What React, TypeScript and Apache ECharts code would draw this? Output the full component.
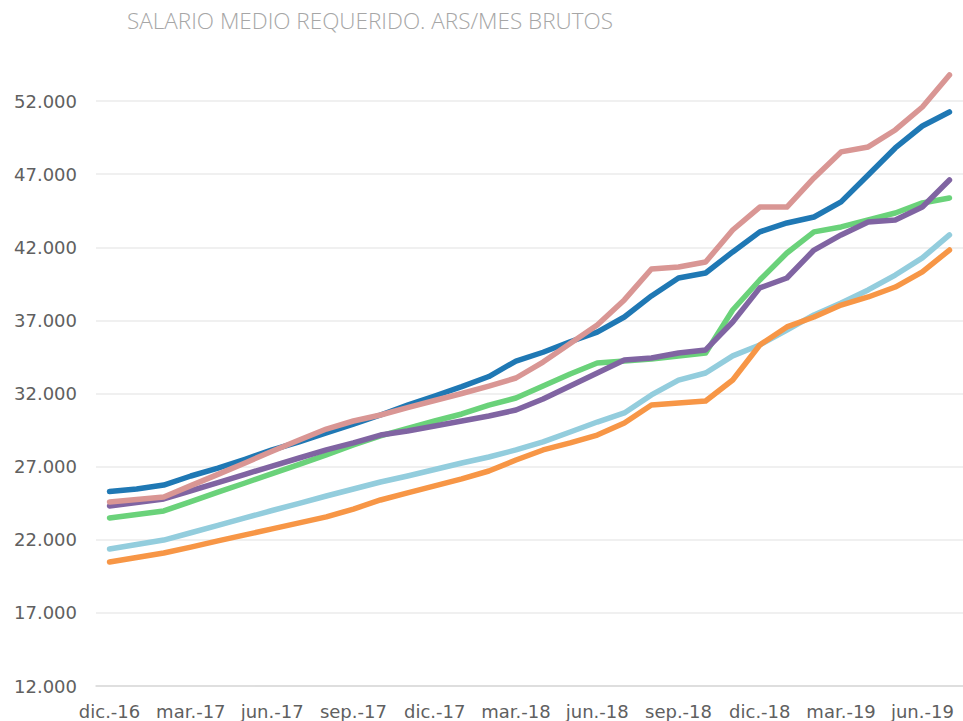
import React, { useEffect, useRef } from "react";
import * as echarts from "echarts";

const months = [
  "dic.-16", "ene.-17", "feb.-17", "mar.-17", "abr.-17", "may.-17", "jun.-17", "jul.-17",
  "ago.-17", "sep.-17", "oct.-17", "nov.-17", "dic.-17", "ene.-18", "feb.-18", "mar.-18",
  "abr.-18", "may.-18", "jun.-18", "jul.-18", "ago.-18", "sep.-18", "oct.-18", "nov.-18",
  "dic.-18", "ene.-19", "feb.-19", "mar.-19", "abr.-19", "may.-19", "jun.-19", "jul.-19",
];

const serieAzul = [
  25300, 25470, 25740, 26360, 26900, 27500, 28140, 28700, 29300, 29900, 30530, 31200,
  31830, 32470, 33160, 34220, 34820, 35540, 36200, 37230, 38670, 39900, 40240, 41680,
  43050, 43660, 44070, 45100, 46940, 48790, 50290, 51250,
];
const serieRosa = [
  24580, 24750, 24920, 25700, 26470, 27250, 28050, 28820, 29570, 30120, 30530, 31040,
  31520, 32000, 32510, 33060, 34150, 35420, 36690, 38400, 40510, 40650, 40990, 43180,
  44750, 44750, 46740, 48520, 48860, 50020, 51590, 53780,
];
const serieMorada = [
  24310, 24550, 24790, 25350, 25910, 26470, 27040, 27590, 28140, 28620, 29160, 29440,
  29780, 30120, 30460, 30870, 31620, 32510, 33400, 34290, 34430, 34770, 34980, 36890,
  39220, 39900, 41810, 42840, 43730, 43870, 44750, 46600,
];
const serieVerde = [
  23490, 23730, 23970, 24600, 25250, 25880, 26520, 27160, 27800, 28480, 29100, 29610,
  30120, 30600, 31210, 31690, 32510, 33330, 34090, 34220, 34360, 34570, 34770, 37710,
  39760, 41610, 43050, 43390, 43870, 44340, 45030, 45370,
];
const serieCeleste = [
  21370, 21680, 21980, 22480, 22980, 23490, 24000, 24490, 24990, 25470, 25950, 26360,
  26800, 27250, 27660, 28140, 28690, 29370, 30050, 30670, 31900, 32920, 33400, 34570,
  35320, 36340, 37370, 38190, 39080, 40100, 41270, 42840,
];
const serieNaranja = [
  20480, 20790, 21090, 21500, 21920, 22330, 22740, 23150, 23560, 24100, 24720, 25200,
  25680, 26160, 26700, 27450, 28140, 28620, 29160, 29980, 31210, 31350, 31490, 32920,
  35320, 36550, 37230, 38050, 38600, 39280, 40310, 41810,
];

const fmt = (v: number) => {
  const miles = Math.floor(v / 1000);
  const resto = String(Math.round(v % 1000)).padStart(3, "0");
  return miles + "." + resto;
};

export default function App() {
  const ref = useRef<HTMLDivElement>(null);
  useEffect(() => {
    document.body.style.margin = "0";
    if (!ref.current) return;
    const chart = echarts.init(ref.current, null, { renderer: "svg" });
    const mk = (name: string, data: number[], color: string) => ({
      name,
      type: "line",
      data,
      showSymbol: false,
      symbol: "none",
      clip: false,
      lineStyle: { color, width: 5.5, cap: "round", join: "round" },
      itemStyle: { color },
    });
    chart.setOption({
      animation: false,
      backgroundColor: "#ffffff",
      title: {
        text: "SALARIO MEDIO REQUERIDO. ARS/MES BRUTOS",
        left: 122,
        top: 4,
        textStyle: {
          fontFamily: "Open Sans",
          fontWeight: 300,
          fontSize: 22.5,
          color: "#a6a6a6",
        },
      },
      grid: { left: 96, right: -6, top: 101, bottom: 35, containLabel: false },
      xAxis: {
        type: "category",
        data: months,
        boundaryGap: true,
        axisLine: { show: true, lineStyle: { color: "#d9d9d9", width: 1.5 } },
        axisTick: { show: false },
        axisLabel: {
          interval: 2,
          margin: 16,
          fontFamily: "DejaVu Sans",
          fontSize: 18,
          color: "#606060",
        },
        splitLine: { show: false },
      },
      yAxis: {
        type: "value",
        min: 12000,
        max: 52000,
        interval: 5000,
        axisLine: { show: false },
        axisTick: { show: false },
        axisLabel: {
          margin: 19,
          formatter: fmt,
          fontFamily: "DejaVu Sans",
          fontSize: 18,
          color: "#606060",
        },
        splitLine: { show: true, lineStyle: { color: "#f0f0f0", width: 2 } },
      },
      series: [
        mk("Celeste", serieCeleste, "#93CDDD"),
        mk("Naranja", serieNaranja, "#F79646"),
        mk("Verde", serieVerde, "#6AD27A"),
        mk("Morada", serieMorada, "#8064A2"),
        mk("Azul", serieAzul, "#1F78B4"),
        mk("Rosa", serieRosa, "#D99694"),
      ],
    });
    return () => chart.dispose();
  }, []);
  return (
    <div
      ref={ref}
      style={{ position: "fixed", left: 0, top: 0, width: 963, height: 721 }}
    />
  );
}
